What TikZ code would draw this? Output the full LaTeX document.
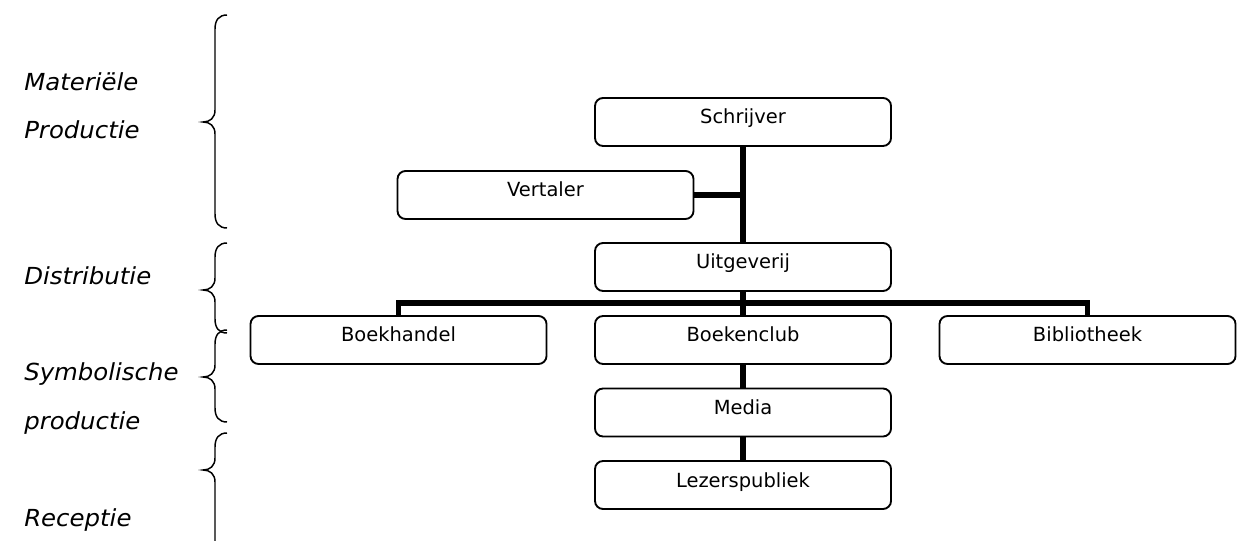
\documentclass[tikz,border=0pt]{standalone}
\usepackage{fontspec}
\setmainfont{DejaVu Sans}
\newfontfamily\labelfont[FakeStretch=1.04]{DejaVu Sans Oblique}
\begin{document}
\begin{tikzpicture}[x=0.75pt,y=-0.75pt,
  box/.style={draw,line width=1.4pt,rounded corners=6pt,minimum width=222pt,minimum height=36pt,
    inner sep=0pt,text height=10.5pt,text depth=7.5pt,font=\fontsize{14.6pt}{16pt}\selectfont},
  link/.style={line width=3.8pt},
  bracestyle/.style={line width=1.1pt},
  lbl/.style={anchor=base west,inner sep=0pt,font=\labelfont\fontsize{17.6pt}{20pt}\selectfont}]
\useasboundingbox (0,0) rectangle (1238,541);
% boxes
\node[box] (s) at (743,122) {Schrijver};
\node[box] (v) at (545.5,195) {Vertaler};
\node[box] (u) at (743,267) {Uitgeverij};
\node[box] (bh) at (398.5,340) {Boekhandel};
\node[box] (bc) at (743,340) {Boekenclub};
\node[box] (bib) at (1087.5,340) {Bibliotheek};
\node[box] (m) at (743,412.5) {Media};
\node[box] (l) at (743,485) {Lezerspubliek};
\coordinate (bus) at (743,303);
% connectors
\draw[link] (s.south) -- (u.north);
\draw[link] (v.east) -- (v.east -| s.south);
\draw[link] (u.south) -- (bc.north);
\draw[link] (bh.north) |- (bus) -| (bib.north);
\draw[link] (bc.south) -- (m.north);
\draw[link] (m.south) -- (l.north);
% braces
\newcommand\mybrace[3]{%
\draw[bracestyle] (227,#1) .. controls (219,#1) and (215,{#1+5}) .. (215,{#1+14})
  -- (215,{#2-12}) .. controls (215,{#2-4}) and (210,#2) .. (203,#2)
  .. controls (210,#2) and (215,{#2+4}) .. (215,{#2+12})
  -- (215,{#3-14}) .. controls (215,{#3-5}) and (219,#3) .. (227,#3);}
\mybrace{15}{122}{228}
\mybrace{243}{290}{333}
\mybrace{330}{377}{422}
\mybrace{433}{470}{570}
% labels
\node[lbl] (t1) at (24,91) {Materiële};
\node[lbl] (t2) at (24,139) {Productie};
\node[lbl] (t3) at (24,285) {Distributie};
\node[lbl] (t4) at (24,381) {Symbolische};
\node[lbl] (t5) at (24,429) {productie};
\node[lbl] (t6) at (24,526) {Receptie};
\end{tikzpicture}
\end{document}
